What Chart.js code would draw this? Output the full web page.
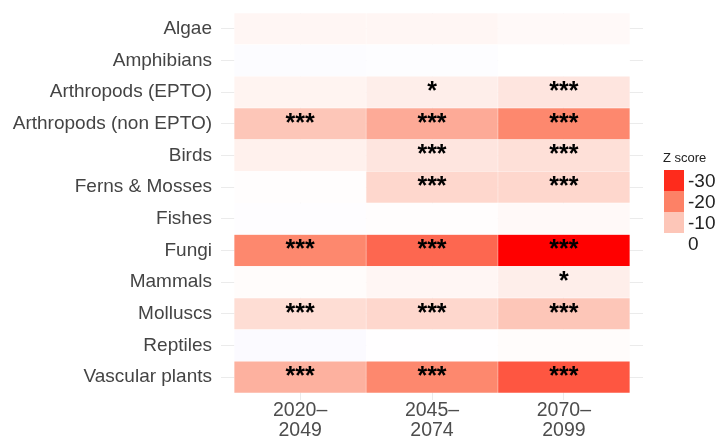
<!DOCTYPE html>
<html>
<head>
<meta charset="utf-8">
<script src="https://cdn.jsdelivr.net/npm/chart.js@4"></script>
<style>
  html, body { margin: 0; padding: 0; background: #fff; }
  #wrap { width: 720px; height: 440px; }
</style>
</head>
<body>
<div id="wrap"><canvas id="chart" width="720" height="440"></canvas></div>
<script>
// --- data ---
var groups = ['Algae', 'Amphibians', 'Arthropods (EPTO)', 'Arthropods (non EPTO)', 'Birds',
  'Ferns & Mosses', 'Fishes', 'Fungi', 'Mammals', 'Molluscs', 'Reptiles', 'Vascular plants'];
var periods = [['2020–', '2049'], ['2045–', '2074'], ['2070–', '2099']];

// z scores per period
var z2020 = [-1.5, 0.6, -2, -10, -2.5, -0.3, 0.3, -19, -0.5, -6, 0.8, -13];
var z2045 = [-1.5, 0.4, -3, -14, -4.5, -7, -0.3, -23, -1.5, -7, 0.1, -19];
var z2070 = [-1, 0, -4.5, -19, -5.5, -7, -1, -34, -3, -10, -0.5, -25];

// significance stars
var s2020 = ['', '', '', '***', '', '', '', '***', '', '***', '', '***'];
var s2045 = ['', '', '*', '***', '***', '***', '', '***', '', '***', '', '***'];
var s2070 = ['', '', '***', '***', '***', '***', '', '***', '*', '***', '', '***'];

var legendTicks = [-30, -20, -10, 0];

var zCols = [z2020, z2045, z2070];
var starCols = [s2020, s2045, s2070];

// colour scale: red (negative) -> white -> faint blue (positive)
var stops = [[-34, '#ff0000'], [-30, '#fe2b1c'], [-20, '#fd8166'], [-10, '#fdc6b8'], [0, '#ffffff'], [3, '#f0eeff']];
function hex(c){ return [parseInt(c.substr(1,2),16), parseInt(c.substr(3,2),16), parseInt(c.substr(5,2),16)]; }
function zColor(z) {
  if (z <= stops[0][0]) return stops[0][1];
  if (z >= stops[stops.length-1][0]) return stops[stops.length-1][1];
  for (var i = 0; i < stops.length - 1; i++) {
    var a = stops[i], b = stops[i+1];
    if (z >= a[0] && z <= b[0]) {
      var t = (z - a[0]) / (b[0] - a[0]);
      var ca = hex(a[1]), cb = hex(b[1]);
      var rgb = ca.map(function(v, k){ return Math.round(v + (cb[k] - v) * t); });
      return 'rgb(' + rgb.join(',') + ')';
    }
  }
}

var FONT = "'Liberation Sans', Arial, sans-serif";

// stars on top of each tile
var starPlugin = {
  id: 'stars',
  afterDatasetsDraw: function(chart) {
    var ctx = chart.ctx;
    ctx.save();
    ctx.fillStyle = '#000';
    ctx.font = 'bold 25px ' + FONT;
    ctx.textAlign = 'center';
    ctx.textBaseline = 'middle';
    chart.data.datasets.forEach(function(ds, di) {
      var meta = chart.getDatasetMeta(di);
      meta.data.forEach(function(el, i) {
        var s = starCols[di][i];
        if (!s) return;
        ctx.fillText(s, (el.x + el.base) / 2, el.y);
      });
    });
    ctx.restore();
  }
};

// Z score colour legend on the right
var zLegend = {
  id: 'zLegend',
  afterDraw: function(chart) {
    var ctx = chart.ctx;
    ctx.save();
    ctx.fillStyle = '#222';
    ctx.font = '13px ' + FONT;
    ctx.textBaseline = 'middle';
    ctx.textAlign = 'left';
    ctx.fillText('Z score', 663, 158);
    legendTicks.forEach(function(v, i) {
      var y = 170 + i * 21;
      ctx.fillStyle = zColor(v);
      ctx.fillRect(664, y, 20, 21);
      ctx.fillStyle = '#222';
      ctx.font = '19px ' + FONT;
      ctx.fillText(String(v), 688, y + 12);
    });
    ctx.restore();
  }
};

var datasets = zCols.map(function(col, j) {
  return {
    label: periods[j].join(''),
    data: groups.map(function(){ return [j, j + 1]; }),
    backgroundColor: col.map(zColor),
    borderColor: 'rgba(255,255,255,0.6)',
    borderWidth: 0.5,
    borderSkipped: false,
    grouped: false,
    barPercentage: 1,
    categoryPercentage: 1
  };
});

new Chart(document.getElementById('chart'), {
  type: 'bar',
  data: { labels: groups, datasets: datasets },
  plugins: [starPlugin, zLegend],
  options: {
    indexAxis: 'y',
    responsive: false,
    animation: false,
    layout: { padding: { top: 13, right: 77, bottom: 0, left: 0 } },
    plugins: { legend: { display: false }, tooltip: { enabled: false } },
    scales: {
      x: {
        type: 'linear',
        min: -0.1, max: 3.1,
        afterBuildTicks: function(scale) {
          scale.ticks = [0.5, 1.5, 2.5].map(function(v){ return { value: v }; });
        },
        afterFit: function(scale) { scale.height = 47; },
        ticks: {
          padding: 0,
          color: '#4d4d4d',
          font: { family: FONT, size: 19.5, lineHeight: 1.05 },
          maxRotation: 0,
          callback: function(v, i) { return periods[i]; }
        },
        grid: { color: '#ebebeb', tickLength: 7, tickColor: '#ebebeb' },
        border: { display: false }
      },
      y: {
        afterFit: function(scale) {
          scale.width = 221;
          scale.paddingTop = 0;
          scale.paddingBottom = 0;
        },
        ticks: { padding: 9, color: '#444', font: { family: FONT, size: 19 } },
        grid: { color: '#ebebeb', offset: false, drawTicks: false },
        border: { display: false }
      }
    }
  }
});
</script>
</body>
</html>
